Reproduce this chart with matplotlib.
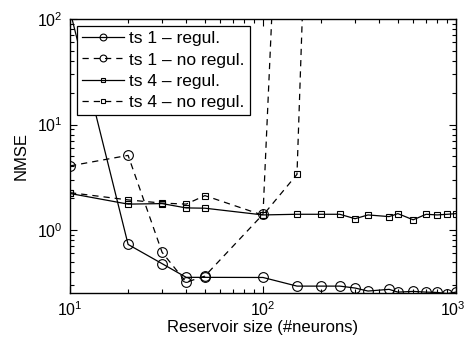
import matplotlib
matplotlib.use("Agg")
import matplotlib.pyplot as plt
import matplotlib.transforms as mtransforms
from matplotlib.ticker import LogLocator, NullFormatter

plt.rcParams['font.family'] = ['Liberation Sans', 'DejaVu Sans']
plt.rcParams['mathtext.fontset'] = 'custom'
plt.rcParams['mathtext.rm'] = 'Liberation Sans'
plt.rcParams['mathtext.it'] = 'Liberation Sans'

# ---- data ----
x_ts1_reg = [10, 20, 30, 40, 50, 100, 150, 200, 250, 300, 350, 450, 500, 600, 700, 800, 900, 1000]
y_ts1_reg = [120, 0.73, 0.48, 0.356, 0.356, 0.355, 0.294, 0.294, 0.294, 0.282, 0.264, 0.274,
             0.258, 0.262, 0.258, 0.256, 0.25, 0.258]

x_ts1_noreg = [10, 20, 30, 40, 50, 100, 150]
y_ts1_noreg = [4.05, 5.1, 0.615, 0.32, 0.366, 1.41, 2.5e7]

x_ts4_reg = [10, 20, 30, 40, 50, 100, 150, 200, 250, 300, 350, 450, 500, 600, 700, 800, 900, 1000]
y_ts4_reg = [2.22, 1.76, 1.78, 1.62, 1.61, 1.39, 1.41, 1.41, 1.41, 1.28, 1.39, 1.34,
             1.43, 1.25, 1.41, 1.39, 1.41, 1.43]

x_ts4_noreg = [10, 20, 30, 40, 50, 100, 150, 200]
y_ts4_noreg = [2.26, 1.93, 1.80, 1.76, 2.12, 1.38, 3.37, 2e7]

labels = ['ts 1 \u2013 regul.', 'ts 1 \u2013 no regul.', 'ts 4 \u2013 regul.', 'ts 4 \u2013 no regul.']

fig = plt.figure(figsize=(4.67, 3.40), dpi=100)
ax = fig.add_axes([70/467, 47/340, 386/467, 274/340])

dash = (0, (5, 4))
common = dict(color='black', lw=0.9, mfc='none', mec='black', mew=0.8)
ax.plot(x_ts1_reg, y_ts1_reg, '-', marker='o', ms=7, label=labels[0], **common)
ax.plot(x_ts1_noreg, y_ts1_noreg, linestyle=dash, marker='o', ms=7, label=labels[1], **common)
ax.plot(x_ts4_reg, y_ts4_reg, '-', marker='s', ms=5, label=labels[2], **common)
ax.plot(x_ts4_noreg, y_ts4_noreg, linestyle=dash, marker='s', ms=5, label=labels[3], **common)

ax.set_xscale('log')
ax.set_yscale('log')
ax.set_xlim(10, 1000)
ax.set_ylim(0.253, 100)
ax.yaxis.set_major_locator(LogLocator(base=10, numticks=10))
ax.yaxis.set_minor_locator(LogLocator(base=10, subs=range(2, 10), numticks=20))
ax.yaxis.set_minor_formatter(NullFormatter())
ax.xaxis.set_minor_formatter(NullFormatter())

ax.tick_params(which='both', direction='in', top=True, right=True, labelsize=11.5, width=0.8)
ax.tick_params(which='major', length=5, pad=5)
ax.tick_params(which='minor', length=3)
for s in ax.spines.values():
    s.set_linewidth(1.0)

ax.set_xlabel('Reservoir size (#neurons)', fontsize=12, labelpad=1)
ax.set_ylabel('NMSE', fontsize=12, labelpad=6)

leg = ax.legend(loc='upper left', fontsize=12.5, frameon=True, fancybox=False,
                edgecolor='black', framealpha=1, borderpad=0.3, labelspacing=0.35,
                handlelength=2.4, handletextpad=0.3, borderaxespad=0.4,
                markerscale=0.7)
leg.get_frame().set_linewidth(0.9)

fig.canvas.draw()
# nudge the last x tick label inward so it stays inside the figure
last = ax.get_xticklabels()[-1]
for lab in ax.get_xticklabels():
    if lab.get_position()[0] >= 999:
        lab.set_transform(lab.get_transform() +
                          mtransforms.ScaledTranslation(-3/100, 0, fig.dpi_scale_trans))

fig.savefig('out.png', dpi=100)
